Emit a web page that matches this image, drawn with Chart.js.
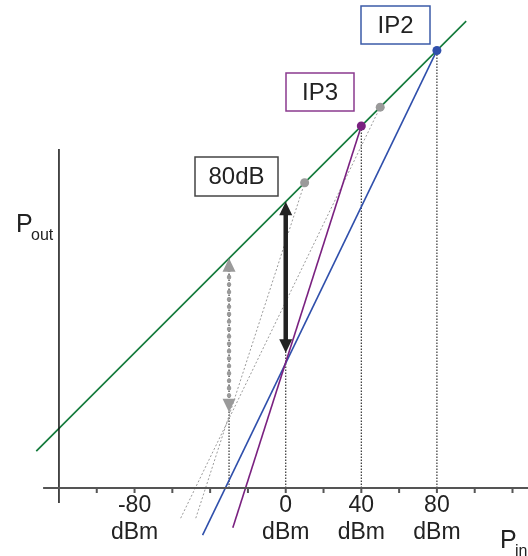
<!DOCTYPE html>
<html>
<head>
<meta charset="utf-8">
<script src="https://cdn.jsdelivr.net/npm/chart.js@4.4.1/dist/chart.umd.min.js"></script>
<style>
  body { margin: 0; background: #fff; }
  #wrap { width: 528px; height: 556px; position: relative; }
</style>
</head>
<body>
<div id="wrap"><canvas id="c"></canvas></div>
<script>
// input power (dBm) / output power
const fundX = [-132, 95.5];
const fundY = [19.5, 247];
const im2X = [-44, 80];          // second order product
const im2Y = [-25, 231.5];
const im3X = [-28, 40];          // third order product
const im3Y = [-21, 191.5];
const grayAX = [-55.6, 50];      // helper line to the grey dot at 50
const grayAY = [-16, 201.5];
const grayBX = [-47.6, 10];      // helper line to the grey dot at 10
const grayBY = [-16, 161.5];
const dropX = [-30, 0, 40, 80];  // dotted verticals
const dropTop = [121.5, 151.5, 191.5, 231.5];
const arrowX = [0, -30];         // 80 dB arrows
const arrowTop = [151.5, 121.5];
const arrowBottom = [71.5, 40];
const xTicks = [-100, -80, -60, -40, -20, 0, 20, 40, 60, 80, 100, 120];
const xLabels = [-80, 0, 40, 80];
const unit = "dBm";

const GREEN = "#137a3b", BLUE = "#2f4fab", PURPLE = "#7a2180", GRAY = "#9a9a9a", DARK = "#222";
const FONT = "'Liberation Sans', Arial, sans-serif";

const pts = (xs, ys) => xs.map((x, i) => ({ x, y: ys[i] }));

const drops = [];
dropX.forEach((x, i) => {
  drops.push({ x, y: 0 }, { x, y: dropTop[i] }, { x, y: NaN });
});

const decor = {
  id: "decor",
  afterDatasetsDraw(chart) {
    const { ctx, scales: { x, y } } = chart;
    const X = v => x.getPixelForValue(v), Y = v => y.getPixelForValue(v);
    ctx.save();
    // axes
    ctx.strokeStyle = "#111";
    ctx.lineWidth = 1.5;
    ctx.beginPath();
    ctx.moveTo(X(-120), Y(179.4));
    ctx.lineTo(X(-120), Y(-7.9));
    ctx.stroke();
    ctx.strokeStyle = "#555";
    ctx.lineWidth = 2;
    ctx.beginPath();
    ctx.moveTo(X(-128.4), Y(0));
    ctx.lineTo(X(130), Y(0));
    xTicks.forEach(t => {
      ctx.moveTo(X(t), Y(0));
      ctx.lineTo(X(t), Y(0) + 5);
    });
    ctx.stroke();

    // arrow heads
    const head = (xv, yv, dir, color) => {
      const px = X(xv), py = Y(yv);
      ctx.fillStyle = color;
      ctx.beginPath();
      ctx.moveTo(px, py);
      ctx.lineTo(px - 6.5, py + dir * 13.5);
      ctx.lineTo(px + 6.5, py + dir * 13.5);
      ctx.closePath();
      ctx.fill();
    };
    head(arrowX[0], arrowTop[0], 1, DARK);
    head(arrowX[0], arrowBottom[0], -1, DARK);
    head(arrowX[1], arrowTop[1], 1, GRAY);
    head(arrowX[1], arrowBottom[1], -1, GRAY);

    // tick labels
    ctx.fillStyle = DARK;
    ctx.font = "23px " + FONT;
    ctx.textAlign = "center";
    ctx.textBaseline = "alphabetic";
    xLabels.forEach(v => {
      ctx.fillText(String(v), X(v), Y(0) + 24);
      ctx.fillText(unit, X(v), Y(0) + 51);
    });

    // axis titles
    ctx.textAlign = "left";
    ctx.font = "25px " + FONT;
    ctx.fillText("P", 16, 232);
    ctx.fillText("P", 500, 548);
    ctx.font = "16px " + FONT;
    ctx.fillText("out", 31, 240);
    ctx.fillText("in", 515, 556);

    // labelled boxes
    const box = (x0, y0, x1, y1, color, text) => {
      ctx.fillStyle = "#fff";
      ctx.fillRect(x0, y0, x1 - x0, y1 - y0);
      ctx.strokeStyle = color;
      ctx.lineWidth = 1.5;
      ctx.strokeRect(x0, y0, x1 - x0, y1 - y0);
      ctx.fillStyle = DARK;
      ctx.font = "24px " + FONT;
      ctx.textAlign = "center";
      ctx.textBaseline = "middle";
      ctx.fillText(text, (x0 + x1) / 2, (y0 + y1) / 2 + 1);
    };
    box(195, 157, 278, 196, "#444", "80dB");
    box(286, 73, 354, 111, "#8a3a8e", "IP3");
    box(361, 6, 430, 44, "#3b5ba8", "IP2");
    ctx.restore();
  }
};

new Chart(document.getElementById("c"), {
  type: "scatter",
  data: {
    datasets: [
      { data: [{ x: im2X[1], y: im2Y[1] }], pointRadius: 4.5, backgroundColor: BLUE, borderWidth: 0, order: 0 },
      { data: [{ x: im3X[1], y: im3Y[1] }], pointRadius: 4.5, backgroundColor: PURPLE, borderWidth: 0, order: 0 },
      { data: [{ x: grayAX[1], y: grayAY[1] }, { x: grayBX[1], y: grayBY[1] }], pointRadius: 4.5,
        backgroundColor: GRAY, borderWidth: 0, order: 1 },
      { data: pts([arrowX[0], arrowX[0]], [arrowTop[0] - 6, arrowBottom[0] + 6]), showLine: true,
        borderColor: DARK, borderWidth: 4.5, pointRadius: 0, order: 2 },
      { data: pts([arrowX[1], arrowX[1]], [arrowTop[1] - 6, arrowBottom[1] + 6]), showLine: true,
        borderColor: GRAY, borderWidth: 4.5, borderDash: [0.1, 7.3], borderCapStyle: "round", pointRadius: 0, order: 2 },
      { data: pts(fundX, fundY), showLine: true, borderColor: GREEN, borderWidth: 1.6, pointRadius: 0, order: 3 },
      { data: pts(im3X, im3Y), showLine: true, borderColor: PURPLE, borderWidth: 1.6, pointRadius: 0, order: 4 },
      { data: pts(im2X, im2Y), showLine: true, borderColor: BLUE, borderWidth: 1.6, pointRadius: 0, order: 4 },
      { data: pts(grayAX, grayAY), showLine: true, borderColor: GRAY, borderWidth: 1, borderDash: [2, 2], pointRadius: 0, order: 5 },
      { data: pts(grayBX, grayBY), showLine: true, borderColor: GRAY, borderWidth: 1, borderDash: [2, 2], pointRadius: 0, order: 5 },
      { data: drops, showLine: true, spanGaps: false, borderColor: "#333", borderWidth: 1.2, borderDash: [1.5, 1.5], pointRadius: 0, order: 6 }
    ]
  },
  options: {
    responsive: true,
    maintainAspectRatio: false,
    animation: false,
    layout: { padding: 0, autoPadding: false },
    plugins: { legend: { display: false }, tooltip: { enabled: false } },
    scales: {
      x: { type: "linear", display: false, min: -151.2, max: 128.2 },
      y: { type: "linear", display: false, min: -36, max: 258.2 }
    }
  },
  plugins: [decor]
});
</script>
</body>
</html>
